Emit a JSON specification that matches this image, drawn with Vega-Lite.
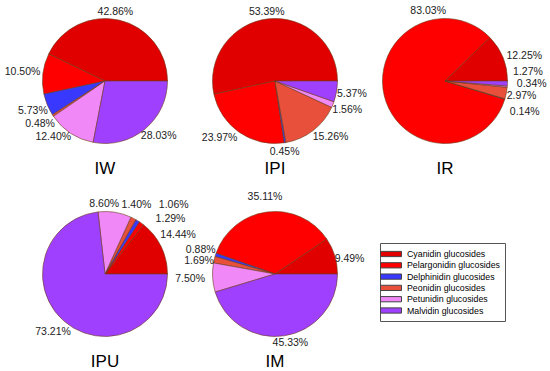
{
  "$schema": "https://vega.github.io/schema/vega-lite/v6.json",
  "padding": {"left": 4, "top": 4, "right": 0, "bottom": 0},
  "bounds": "flush",
  "data": {"values": [
    {"sample": "IW", "category": "Cyanidin glucosides", "k": 1, "value": 0.4286},
    {"sample": "IW", "category": "Pelargonidin glucosides", "k": 2, "value": 0.1050},
    {"sample": "IW", "category": "Delphinidin glucosides", "k": 3, "value": 0.0573},
    {"sample": "IW", "category": "Peonidin glucosides", "k": 4, "value": 0.0048},
    {"sample": "IW", "category": "Petunidin glucosides", "k": 5, "value": 0.1240},
    {"sample": "IW", "category": "Malvidin glucosides", "k": 6, "value": 0.2803},
    {"sample": "IPI", "category": "Cyanidin glucosides", "k": 1, "value": 0.5339},
    {"sample": "IPI", "category": "Pelargonidin glucosides", "k": 2, "value": 0.2397},
    {"sample": "IPI", "category": "Delphinidin glucosides", "k": 3, "value": 0.0045},
    {"sample": "IPI", "category": "Peonidin glucosides", "k": 4, "value": 0.1526},
    {"sample": "IPI", "category": "Petunidin glucosides", "k": 5, "value": 0.0156},
    {"sample": "IPI", "category": "Malvidin glucosides", "k": 6, "value": 0.0537},
    {"sample": "IR", "category": "Cyanidin glucosides", "k": 1, "value": 0.1225},
    {"sample": "IR", "category": "Pelargonidin glucosides", "k": 2, "value": 0.8303},
    {"sample": "IR", "category": "Delphinidin glucosides", "k": 3, "value": 0.0014},
    {"sample": "IR", "category": "Peonidin glucosides", "k": 4, "value": 0.0297},
    {"sample": "IR", "category": "Petunidin glucosides", "k": 5, "value": 0.0034},
    {"sample": "IR", "category": "Malvidin glucosides", "k": 6, "value": 0.0127},
    {"sample": "IPU", "category": "Cyanidin glucosides", "k": 1, "value": 0.1444},
    {"sample": "IPU", "category": "Pelargonidin glucosides", "k": 2, "value": 0.0129},
    {"sample": "IPU", "category": "Delphinidin glucosides", "k": 3, "value": 0.0106},
    {"sample": "IPU", "category": "Peonidin glucosides", "k": 4, "value": 0.0140},
    {"sample": "IPU", "category": "Petunidin glucosides", "k": 5, "value": 0.0860},
    {"sample": "IPU", "category": "Malvidin glucosides", "k": 6, "value": 0.7321},
    {"sample": "IM", "category": "Cyanidin glucosides", "k": 1, "value": 0.0949},
    {"sample": "IM", "category": "Pelargonidin glucosides", "k": 2, "value": 0.3511},
    {"sample": "IM", "category": "Delphinidin glucosides", "k": 3, "value": 0.0088},
    {"sample": "IM", "category": "Peonidin glucosides", "k": 4, "value": 0.0169},
    {"sample": "IM", "category": "Petunidin glucosides", "k": 5, "value": 0.0750},
    {"sample": "IM", "category": "Malvidin glucosides", "k": 6, "value": 0.4533}
  ]},
  "facet": {
    "field": "sample", "type": "nominal", "title": null,
    "sort": ["IW", "IPI", "IR", "IPU", "IM"],
    "header": {"labelOrient": "bottom", "labelFontSize": 17, "labelFont": "Liberation Sans", "labelColor": "black", "labelPadding": 3}
  },
  "columns": 3,
  "spacing": {"column": 40, "row": 39},
  "spec": {
    "width": 130,
    "height": 154,
    "encoding": {
      "theta": {"field": "value", "type": "quantitative", "stack": true, "scale": {"domain": [0, 1], "range": [1.5707963267948966, -4.71238898038469]}},
      "order": {"field": "k", "type": "quantitative"}
    },
    "layer": [
      {
        "mark": {"type": "arc", "outerRadius": 62.5, "stroke": "#6b3a1a", "strokeWidth": 0.6},
        "encoding": {
          "color": {
            "field": "category", "type": "nominal",
            "scale": {
              "domain": ["Cyanidin glucosides", "Pelargonidin glucosides", "Delphinidin glucosides", "Peonidin glucosides", "Petunidin glucosides", "Malvidin glucosides"],
              "range": ["#e00000", "#ff0000", "#3838ff", "#e8503c", "#f088f8", "#a040ff"]
            },
            "legend": {
              "orient": "none", "legendX": 340, "legendY": 239, "title": null,
              "symbolType": "M-2,-0.5H2V0.5H-2Z", "symbolSize": 110,
              "symbolStrokeColor": "#444", "symbolStrokeWidth": 1, "symbolOpacity": 1,
              "labelFont": "Liberation Sans", "labelFontSize": 8.8, "labelColor": "black", "labelOffset": 10,
              "rowPadding": 0.3, "padding": 5, "strokeColor": "#555", "fillColor": "white"
            }
          }
        }
      },
      {
        "mark": {
          "type": "text", "radius": 78, "fontSize": 10.5, "font": "Liberation Sans", "color": "#222",
          "dx": {"expr": "datum.sample=='IW' ? (datum.k==1 ? -7 : datum.k==2 ? -5 : datum.k==5 ? -9 : datum.k==6 ? 4 : 0) : datum.sample=='IPI' ? (datum.k==2 ? -11 : datum.k==3 ? -3 : datum.k==4 ? 8 : 0) : datum.sample=='IR' ? (datum.k==1 ? 7 : datum.k==2 ? 59 : datum.k==3 ? 5 : datum.k==5 ? 9 : datum.k==6 ? 5 : 0) : datum.sample=='IPU' ? (datum.k==1 ? 3 : datum.k==2 ? 20 : datum.k==3 ? 28 : datum.k==4 ? -4 : datum.k==5 ? -13 : 0) : datum.sample=='IM' ? (datum.k==5 ? -7 : datum.k==6 ? 4 : 0) : 0"},
          "dy": {"expr": "datum.sample=='IW' ? (datum.k==1 ? 7 : datum.k==5 ? -9 : datum.k==6 ? -5 : 0) : datum.sample=='IPI' ? (datum.k==1 ? 9 : datum.k==2 ? -7 : datum.k==3 ? -6 : datum.k==4 ? -6 : 0) : datum.sample=='IR' ? (datum.k==1 ? 4 : datum.k==2 ? -88 : datum.k==3 ? 9 : datum.k==5 ? -4 : datum.k==6 ? -12 : 0) : datum.sample=='IPU' ? (datum.k==1 ? -5 : datum.k==2 ? 8 : datum.k==3 ? -2 : datum.k==5 ? 7 : 0) : datum.sample=='IM' ? (datum.k==1 ? 8 : datum.k==4 ? 5 : datum.k==6 ? -8 : 0) : 0"}
        },
        "encoding": {
          "text": {"field": "value", "type": "quantitative", "format": ".2%"}
        }
      }
    ]
  },
  "config": {"view": {"stroke": null}, "font": "Liberation Sans"}
}
